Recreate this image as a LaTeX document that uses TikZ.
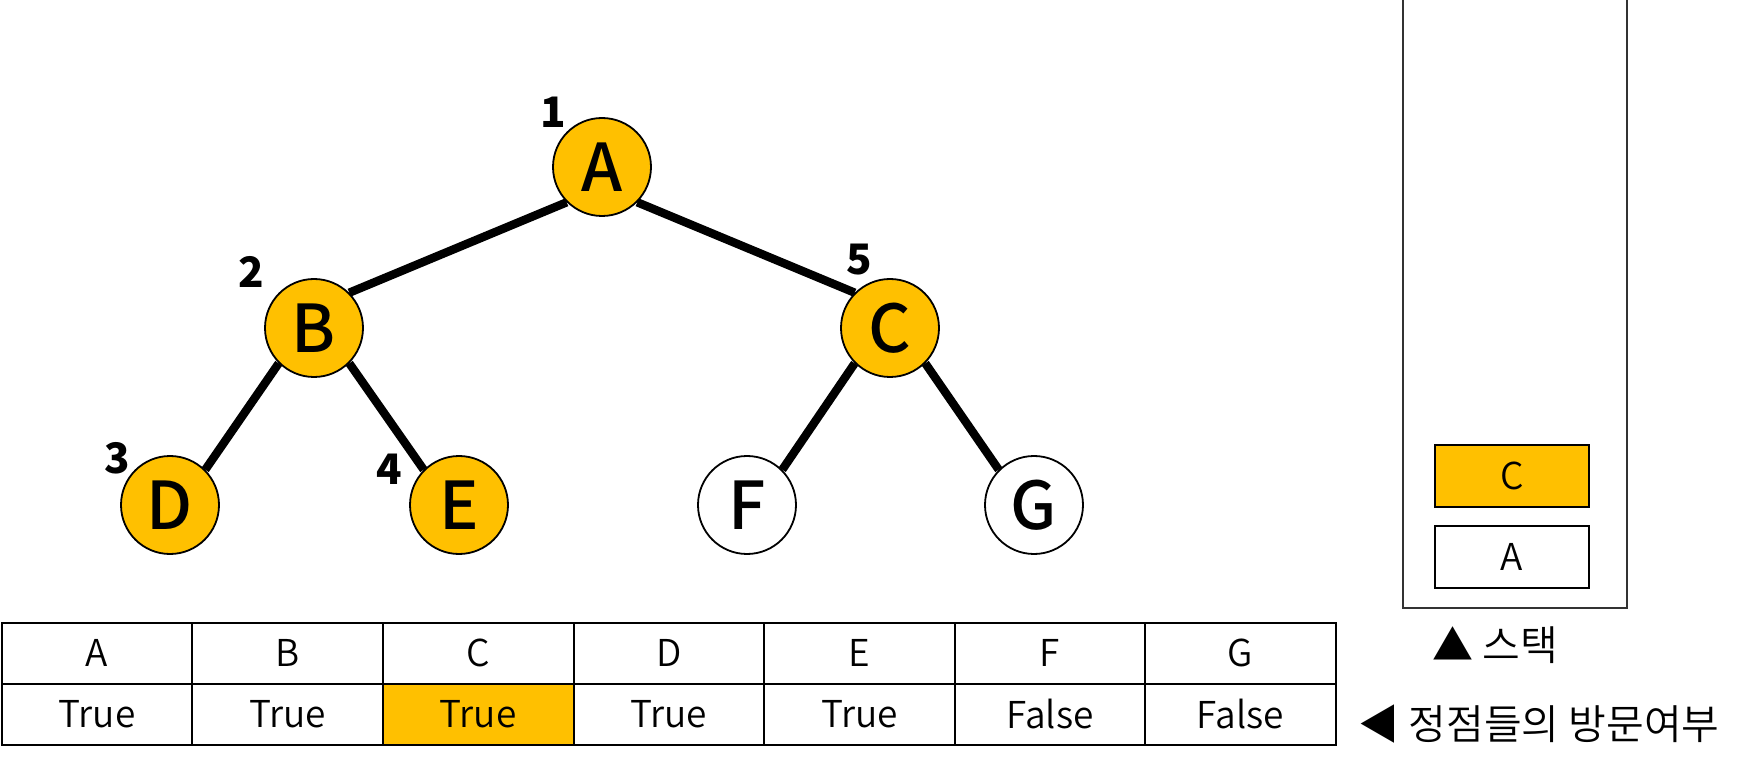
\documentclass[tikz,border=0pt]{standalone}
\usepackage{fontspec}
\setmainfont{Noto Sans CJK KR}
\newfontfamily\medfont{Noto Sans CJK KR Medium}
\newfontfamily\lightfont{Noto Sans CJK KR DemiLight}
\usepackage{tikz}
\usetikzlibrary{positioning}

\definecolor{visit}{HTML}{FFC000}

\tikzset{
  vtx/.style={circle, draw, line width=0.9pt, minimum size=49pt, inner sep=0pt,
    font=\fontsize{33pt}{36pt}\medfont},
  edge/.style={line width=4.2pt},
  num/.style={font=\fontsize{21pt}{24pt}\selectfont\bfseries, inner sep=0pt},
  cell/.style={draw, line width=1pt, minimum width=95.3pt, minimum height=30.5pt,
    inner sep=0pt, font=\fontsize{18.5pt}{22pt}\lightfont},
  stackbox/.style={draw, line width=1pt, minimum width=77pt, minimum height=31pt,
    inner sep=0pt, font=\fontsize{18.5pt}{22pt}\lightfont},
  legend/.style={inner sep=0pt, font=\fontsize{20.5pt}{24pt}\lightfont}
}

\begin{document}
\begin{tikzpicture}[x=0.5pt,y=-0.5pt]
  \useasboundingbox (0,0) rectangle (1742,770);

  % tree
  \node[vtx, fill=visit] (A) at (602,167) {A};
  \node[vtx, fill=visit] (B) at (314,328) {B};
  \node[vtx, fill=visit] (C) at (890,328) {C};
  \node[vtx, fill=visit] (D) at (170,505) {D};
  \node[vtx, fill=visit] (E) at (459,505) {E};
  \node[vtx, fill=white] (F) at (747,505) {F};
  \node[vtx, fill=white] (G) at (1034,505) {G};

  \draw[edge] (A.south west) -- (B.north east);
  \draw[edge] (A.south east) -- (C.north west);
  \draw[edge] (B.south west) -- (D.north east);
  \draw[edge] (B.south east) -- (E.north west);
  \draw[edge] (C.south west) -- (F.north east);
  \draw[edge] (C.south east) -- (G.north west);

  % visiting order
  \node[num] (n1) at (553,112) {1};
  \node[num] (n2) at (251,272) {2};
  \node[num] (n3) at (117,458) {3};
  \node[num] (n4) at (389,469) {4};
  \node[num] (n5) at (859,260) {5};

  % visited table
  \foreach \v/\val/\col [count=\i] in {A/True/white, B/True/white, C/True/visit,
      D/True/white, E/True/white, F/False/white, G/False/white} {
    \node[cell] (hd\v) at ({1.7+190.6*(\i-0.5)},653.2) {\v};
    \node[cell, fill=\col] (val\v) at ({1.7+190.6*(\i-0.5)},714) {\val};
  }

  % stack
  \draw[line width=1pt, black!80] (1403,0) -- (1403,608) -- (1627,608) -- (1627,0);
  \node[stackbox, fill=visit] (top) at (1512,476) {C};
  \node[stackbox, fill=white] (bot) at (1512,556.5) {A};

  \node[legend] (stk) at (1495,645) {▲ 스택};
  \node[legend] (vis) at (1539,724) {◀ 정점들의 방문여부};
\end{tikzpicture}
\end{document}
